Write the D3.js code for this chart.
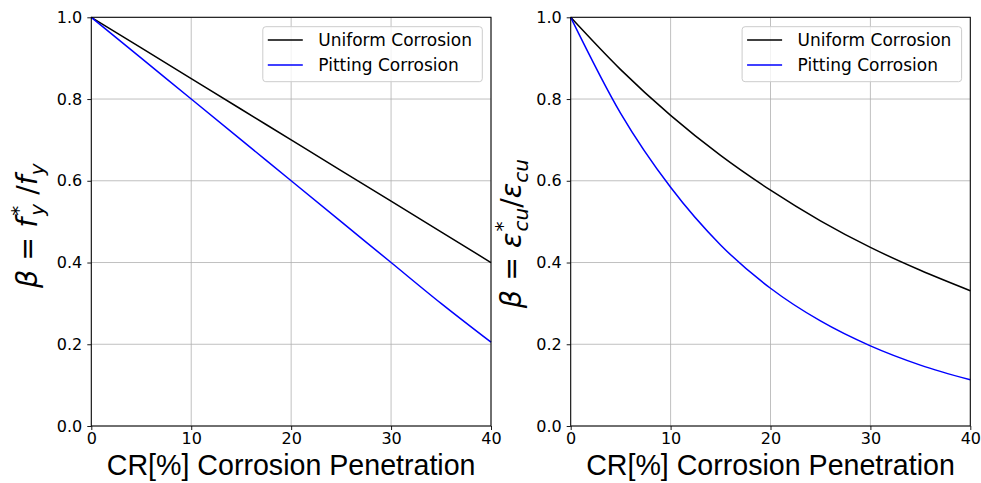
<!DOCTYPE html>
<html>
<head>
<meta charset="utf-8">
<script src="https://cdn.jsdelivr.net/npm/d3@7/dist/d3.min.js"></script>
<style>
  html, body { margin: 0; padding: 0; background: #fff; }
  svg { display: block; }
</style>
</head>
<body>
<svg id="chart" width="981" height="483"></svg>
<script>
// ---- Data ----
const crValues = [0, 5, 10, 15, 20, 25, 30, 35, 40];
const yieldUniform = [1.0, 0.925, 0.85, 0.775, 0.70, 0.625, 0.55, 0.475, 0.40];
const yieldPitting = [1.0, 0.90, 0.80, 0.70, 0.60, 0.50, 0.40, 0.30, 0.205];
const strainUniform = [1.0, 0.872, 0.760, 0.662, 0.577, 0.502, 0.437, 0.381, 0.331];
const strainPitting = [1.0, 0.765, 0.584, 0.443, 0.337, 0.257, 0.196, 0.149, 0.113];
const xTicks = [0, 10, 20, 30, 40];
const yTicks = [0.0, 0.2, 0.4, 0.6, 0.8, 1.0];
const seriesNames = ["Uniform Corrosion", "Pitting Corrosion"];
const seriesColors = ["#000000", "#0000ff"];
const xLabel = "CR[%] Corrosion Penetration";

const svg = d3.select("#chart");
const tickFont = "'DejaVu Sans', sans-serif";

const panels = [
  { x0: 91.3, x1: 491, series: [yieldUniform, yieldPitting], ylab: "left" },
  { x0: 570.7, x1: 970.3, series: [strainUniform, strainPitting], ylab: "right" }
];
const yTop = 17.3, yBot = 426;

panels.forEach(p => {
  const x = d3.scaleLinear().domain([0, 40]).range([p.x0, p.x1]);
  const y = d3.scaleLinear().domain([0, 1]).range([yBot, yTop]);
  const g = svg.append("g");

  // grid
  g.append("g").selectAll("line").data(xTicks).join("line")
    .attr("x1", d => x(d)).attr("x2", d => x(d))
    .attr("y1", yTop).attr("y2", yBot)
    .attr("stroke", "#b0b0b0").attr("stroke-width", 0.8);
  g.append("g").selectAll("line").data(yTicks).join("line")
    .attr("x1", p.x0).attr("x2", p.x1)
    .attr("y1", d => y(d)).attr("y2", d => y(d))
    .attr("stroke", "#b0b0b0").attr("stroke-width", 0.8);

  // lines
  const line = d3.line()
    .x((d, i) => x(crValues[i]))
    .y(d => y(d))
    .curve(d3.curveMonotoneX);
  p.series.forEach((s, i) => {
    g.append("path").datum(s)
      .attr("d", line)
      .attr("fill", "none")
      .attr("stroke", seriesColors[i])
      .attr("stroke-width", 1.5);
  });

  // axes
  const xAxis = d3.axisBottom(x).tickValues(xTicks).tickSize(4).tickPadding(3).tickFormat(d3.format("d"));
  const yAxis = d3.axisLeft(y).tickValues(yTicks).tickSize(4).tickPadding(5).tickFormat(d3.format(".1f"));
  const gx = g.append("g").attr("transform", `translate(0,${yBot})`).call(xAxis);
  const gy = g.append("g").attr("transform", `translate(${p.x0},0)`).call(yAxis);
  [gx, gy].forEach(a => {
    a.select(".domain").remove();
    a.selectAll("text").attr("font-family", tickFont).attr("font-size", 16).attr("fill", "#000");
    a.selectAll("line").attr("stroke", "#000").attr("stroke-width", 0.9);
  });

  // frame
  g.append("rect")
    .attr("x", p.x0).attr("y", yTop)
    .attr("width", p.x1 - p.x0).attr("height", yBot - yTop)
    .attr("fill", "none").attr("stroke", "#000").attr("stroke-width", 1);

  // x label
  g.append("text")
    .attr("x", (p.x0 + p.x1) / 2).attr("y", 475)
    .attr("text-anchor", "middle")
    .attr("font-family", "'Liberation Sans', Arial, sans-serif")
    .attr("font-size", 28.6)
    .text(xLabel);

  // legend
  const lw = 219.5, lh = 55;
  const lx = p.x1 - 8.7 - lw, ly = yTop + 9.4;
  const lg = g.append("g");
  lg.append("rect").attr("x", lx).attr("y", ly).attr("width", lw).attr("height", lh)
    .attr("rx", 3).attr("fill", "#fff").attr("fill-opacity", 0.8)
    .attr("stroke", "#cccccc").attr("stroke-width", 1);
  seriesNames.forEach((n, i) => {
    const ry = ly + 13.3 + i * 25;
    lg.append("line").attr("x1", lx + 5).attr("x2", lx + 40)
      .attr("y1", ry).attr("y2", ry)
      .attr("stroke", seriesColors[i]).attr("stroke-width", 1.5);
    lg.append("text").attr("x", lx + 55.5).attr("y", ry + 6)
      .attr("font-family", tickFont).attr("font-size", 17)
      .text(n);
  });

  // y label (math text)
  const cy = (yTop + yBot) / 2;
  const left = p.ylab === "left";
  const t = g.append("text")
    .attr("transform", `translate(${left ? 37 : 521},${left ? cy + 4 : cy + 12}) rotate(-90)`)
    .attr("text-anchor", "middle")
    .attr("font-family", tickFont)
    .attr("font-size", 28.5);
  const it = (s) => t.append("tspan").attr("font-style", "italic").text(s);
  const up = (s) => t.append("tspan").text(s);
  if (left) {
    it("β"); up(" = "); it("f");
    t.append("tspan").attr("font-size", 20).attr("dx", 2).attr("dy", -12).text("*");
    t.append("tspan").attr("font-size", 20).attr("font-style", "italic").attr("dx", -10).attr("dy", 19).text("y");
    t.append("tspan").attr("dy", -7).text(" /");
    it("f");
    t.append("tspan").attr("font-size", 20).attr("font-style", "italic").attr("dy", 7).text("y");
  } else {
    it("β"); up(" = "); it("ε");
    t.append("tspan").attr("font-size", 20).attr("dx", 1).attr("dy", -12).text("*");
    t.append("tspan").attr("font-size", 20).attr("font-style", "italic").attr("dx", -10).attr("dy", 19).text("cu");
    t.append("tspan").attr("dy", -7).text("/");
    it("ε");
    t.append("tspan").attr("font-size", 20).attr("font-style", "italic").attr("dy", 7).text("cu");
  }
});
</script>
</body>
</html>
